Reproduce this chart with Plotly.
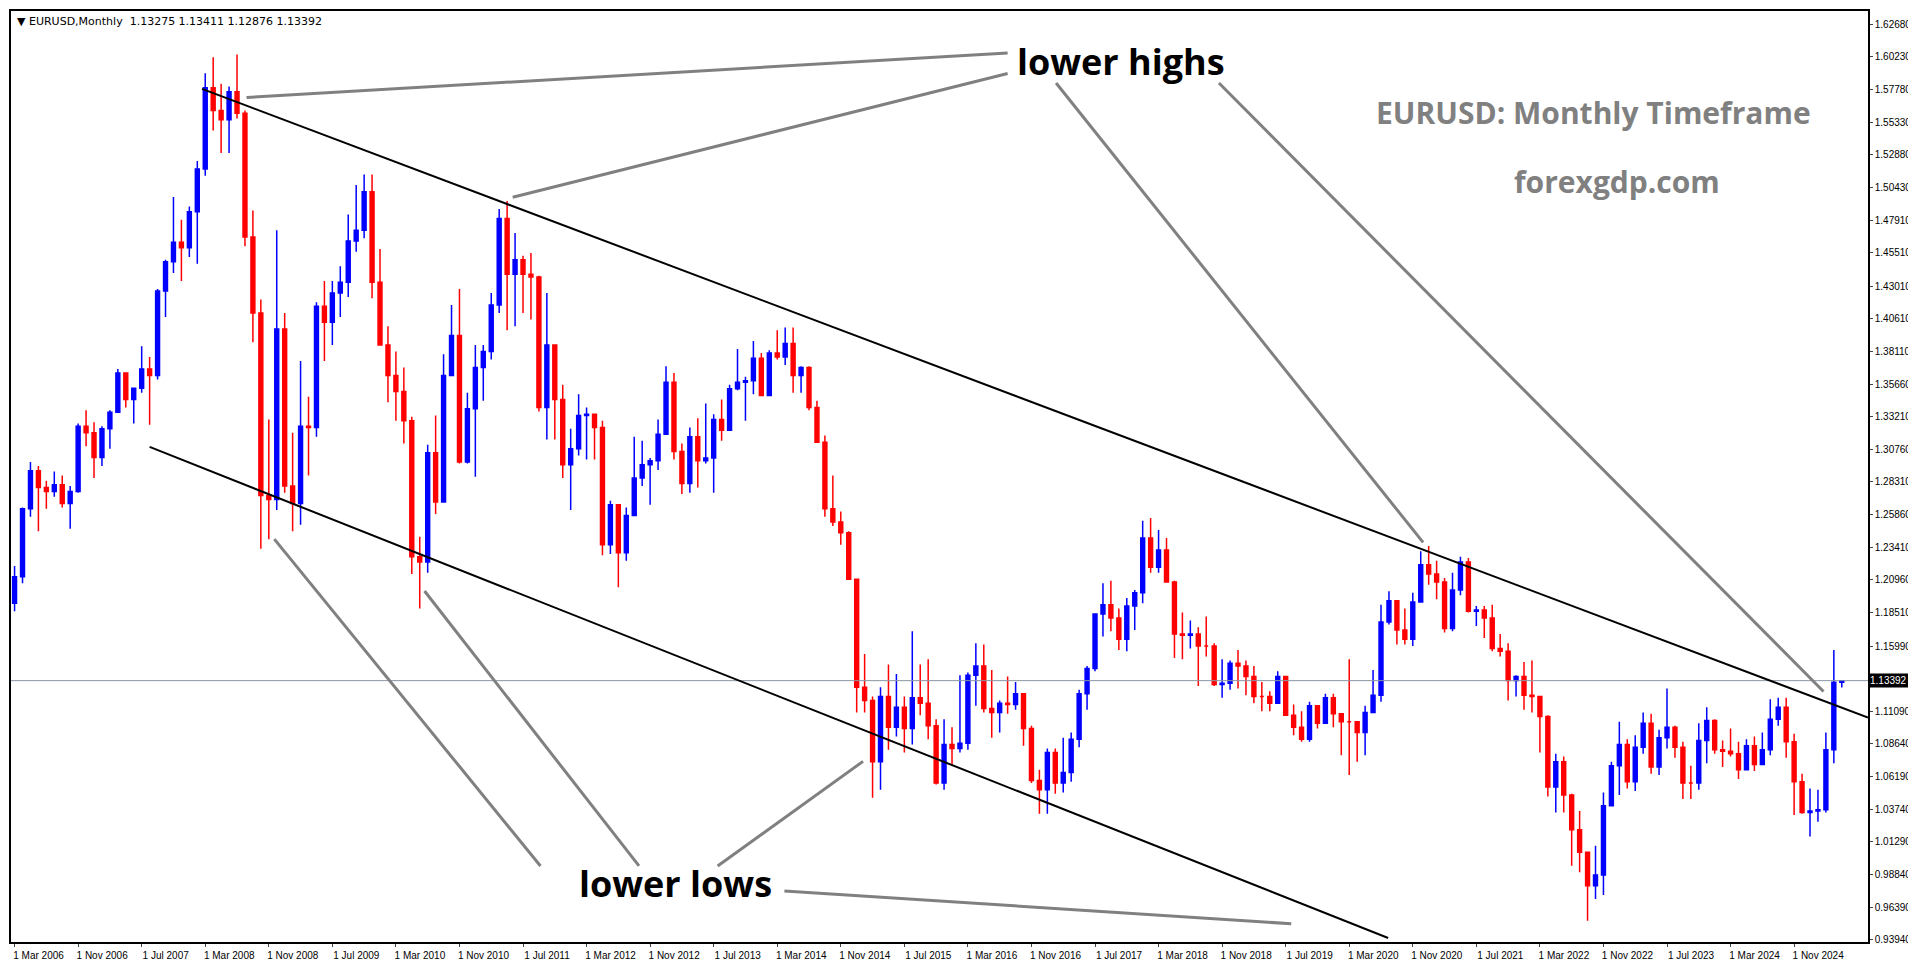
import plotly.graph_objects as go

# monthly candles, Mar 2006 .. May 2025
months = ["Jan", "Feb", "Mar", "Apr", "May", "Jun", "Jul", "Aug", "Sep", "Oct", "Nov", "Dec"]
start_month = 2  # March
start_year = 2006
first_open = 1.1920

close = [
    1.2120, 1.2630, 1.2915, 1.2790, 1.2760, 1.2810, 1.2670, 1.2760, 1.3250, 1.3200,
    1.3015, 1.3230, 1.3355, 1.3650, 1.3450, 1.3535, 1.3680, 1.3630, 1.4265, 1.4485, 1.4630, 1.4590,
    1.4860, 1.5180, 1.5790, 1.5620, 1.5550, 1.5760, 1.5600, 1.4670, 1.4100, 1.2730, 1.2700, 1.3980,
    1.2800, 1.2670, 1.3250, 1.3240, 1.4150, 1.4030, 1.4250, 1.4330, 1.4640, 1.4720, 1.5010, 1.4330,
    1.3860, 1.3630, 1.3510, 1.3290, 1.2270, 1.2230, 1.3050, 1.2680, 1.3630, 1.3930, 1.2980, 1.3380,
    1.3690, 1.3810, 1.4160, 1.4810, 1.4390, 1.4500, 1.4390, 1.4370, 1.3390, 1.3860, 1.3450, 1.2960,
    1.3080, 1.3330, 1.3340, 1.3240, 1.2360, 1.2660, 1.2300, 1.2580, 1.2860, 1.2960, 1.2990, 1.3190,
    1.3580, 1.3060, 1.2820, 1.3170, 1.2990, 1.3010, 1.3300, 1.3220, 1.3530, 1.3580, 1.3590, 1.3760,
    1.3480, 1.3800, 1.3770, 1.3870, 1.3630, 1.3690, 1.3390, 1.3130, 1.2630, 1.2530, 1.2450, 1.2100,
    1.1290, 1.1190, 1.0730, 1.1220, 1.0990, 1.1140, 1.0980, 1.1210, 1.1170, 1.1000, 1.0570, 1.0860,
    1.0830, 1.0870, 1.1380, 1.1450, 1.1130, 1.1100, 1.1170, 1.1160, 1.1240, 1.0980, 1.0590, 1.0520,
    1.0800, 1.0570, 1.0650, 1.0900, 1.1240, 1.1430, 1.1840, 1.1910, 1.1810, 1.1650, 1.1900, 1.2000,
    1.2410, 1.2190, 1.2320, 1.2080, 1.1690, 1.1680, 1.1690, 1.1600, 1.1600, 1.1310, 1.1320, 1.1470,
    1.1450, 1.1370, 1.1220, 1.1220, 1.1170, 1.1370, 1.1080, 1.0990, 1.0900, 1.1150, 1.1020, 1.1210,
    1.1090, 1.1030, 1.1030, 1.0950, 1.1100, 1.1230, 1.1780, 1.1940, 1.1720, 1.1650, 1.1930, 1.2210,
    1.2140, 1.2080, 1.1730, 1.2020, 1.2230, 1.1860, 1.1870, 1.1810, 1.1580, 1.1560, 1.1340, 1.1370,
    1.1230, 1.1220, 1.1070, 1.0540, 1.0730, 1.0480, 1.0220, 1.0050, 0.9800, 0.9880, 1.0400, 1.0700,
    1.0860, 1.0580, 1.0840, 1.1020, 1.0690, 1.0910, 1.0990, 1.0840, 1.0570, 1.0570, 1.0890, 1.1040,
    1.0820, 1.0810, 1.0790, 1.0670, 1.0850, 1.0710, 1.0820, 1.1050, 1.1140, 1.0880, 1.0580, 1.0350,
    1.0360, 1.0370, 1.0820, 1.1327, 1.13392,
]
high = [
    1.2200, 1.2640, 1.2980, 1.2950, 1.2840, 1.2910, 1.2880, 1.2800, 1.3270, 1.3370,
    1.3280, 1.3250, 1.3370, 1.3680, 1.3560, 1.3530, 1.3850, 1.3770, 1.4280, 1.4500, 1.4970, 1.4800,
    1.4900, 1.5240, 1.5900, 1.6020, 1.5820, 1.5800, 1.6040, 1.5620, 1.4870, 1.4200, 1.3300, 1.4720,
    1.4100, 1.3200, 1.3740, 1.3470, 1.4180, 1.4340, 1.4340, 1.4450, 1.4840, 1.5060, 1.5140, 1.5140,
    1.4580, 1.4000, 1.3810, 1.3690, 1.3320, 1.2420, 1.3110, 1.3330, 1.3790, 1.4160, 1.4280, 1.3500,
    1.3860, 1.3860, 1.4250, 1.4880, 1.4940, 1.4700, 1.4530, 1.4550, 1.4380, 1.4250, 1.3820, 1.3560,
    1.3230, 1.3490, 1.3390, 1.3330, 1.3290, 1.2690, 1.2400, 1.2640, 1.3170, 1.3140, 1.3010, 1.3300,
    1.3700, 1.3650, 1.3120, 1.3240, 1.3310, 1.3420, 1.3340, 1.3450, 1.3560, 1.3830, 1.3620, 1.3890,
    1.3800, 1.3820, 1.3970, 1.3990, 1.3990, 1.3700, 1.3700, 1.3440, 1.3180, 1.2880, 1.2610, 1.2460,
    1.2100, 1.1540, 1.1220, 1.1290, 1.1460, 1.1390, 1.1220, 1.1710, 1.1460, 1.1500, 1.1050, 1.1050,
    1.0990, 1.1380, 1.1400, 1.1620, 1.1610, 1.1420, 1.1190, 1.1370, 1.1330, 1.1230, 1.1000, 1.0670,
    1.0830, 1.0830, 1.0910, 1.0950, 1.1270, 1.1450, 1.1840, 1.2070, 1.2090, 1.1880, 1.1960, 1.2020,
    1.2540, 1.2560, 1.2470, 1.2410, 1.2090, 1.1850, 1.1790, 1.1740, 1.1820, 1.1620, 1.1500, 1.1490,
    1.1570, 1.1490, 1.1450, 1.1330, 1.1260, 1.1410, 1.1290, 1.1160, 1.1110, 1.1180, 1.1100, 1.1240,
    1.1240, 1.1050, 1.1500, 1.1020, 1.1150, 1.1420, 1.1910, 1.2010, 1.1870, 1.1880, 1.2000, 1.2310,
    1.2350, 1.2240, 1.2110, 1.2150, 1.2270, 1.2260, 1.1900, 1.1900, 1.1910, 1.1690, 1.1620, 1.1380,
    1.1480, 1.1490, 1.1180, 1.1080, 1.0790, 1.0770, 1.0490, 1.0360, 1.0050, 1.0100, 1.0500, 1.0730,
    1.1030, 1.0900, 1.0930, 1.1100, 1.1090, 1.0970, 1.1280, 1.1000, 1.0880, 1.0700, 1.1020, 1.1140,
    1.1050, 1.0890, 1.0980, 1.0880, 1.0900, 1.0920, 1.0950, 1.1200, 1.1210, 1.1210, 1.0940, 1.0640,
    1.0530, 1.0520, 1.0950, 1.1570, 1.13411,
]
low = [
    1.1860, 1.2070, 1.2570, 1.2460, 1.2630, 1.2720, 1.2640, 1.2480, 1.2750, 1.3100,
    1.2860, 1.2950, 1.3080, 1.3360, 1.3390, 1.3270, 1.3500, 1.3260, 1.3600, 1.4070, 1.4400, 1.4340,
    1.4520, 1.4470, 1.5130, 1.5470, 1.5300, 1.5300, 1.5560, 1.4600, 1.3880, 1.2330, 1.2400, 1.2620,
    1.2750, 1.2460, 1.2510, 1.2880, 1.3170, 1.3740, 1.3860, 1.4070, 1.4220, 1.4560, 1.4660, 1.4210,
    1.3860, 1.3430, 1.3290, 1.3120, 1.2140, 1.1880, 1.2150, 1.2590, 1.2690, 1.3700, 1.2970, 1.2970,
    1.2870, 1.3440, 1.3750, 1.4100, 1.3970, 1.4000, 1.4100, 1.4050, 1.3360, 1.3150, 1.3150, 1.2860,
    1.2620, 1.3030, 1.3000, 1.3000, 1.2280, 1.2290, 1.2040, 1.2240, 1.2690, 1.2800, 1.2660, 1.2920,
    1.3190, 1.3000, 1.2740, 1.2750, 1.2790, 1.2970, 1.2750, 1.3140, 1.3250, 1.3520, 1.3290, 1.3490,
    1.3480, 1.3480, 1.3750, 1.3710, 1.3500, 1.3500, 1.3370, 1.3150, 1.2570, 1.2500, 1.2360, 1.2100,
    1.1100, 1.1100, 1.0460, 1.0520, 1.0820, 1.0920, 1.0800, 1.0860, 1.1080, 1.0900, 1.0560, 1.0520,
    1.0710, 1.0800, 1.0820, 1.1150, 1.1100, 1.0910, 1.0950, 1.1090, 1.1120, 1.0850, 1.0570, 1.0340,
    1.0340, 1.0490, 1.0500, 1.0580, 1.0840, 1.1120, 1.1410, 1.1670, 1.1710, 1.1570, 1.1560, 1.1720,
    1.1920, 1.2150, 1.2150, 1.2080, 1.1510, 1.1500, 1.1580, 1.1300, 1.1520, 1.1300, 1.1210, 1.1270,
    1.1280, 1.1230, 1.1170, 1.1110, 1.1110, 1.1180, 1.1080, 1.0930, 1.0880, 1.0880, 1.0980, 1.1070,
    1.0990, 1.0780, 1.0630, 1.0730, 1.0780, 1.1100, 1.1180, 1.1760, 1.1610, 1.1610, 1.1600, 1.1930,
    1.2060, 1.1950, 1.1700, 1.1710, 1.1980, 1.1850, 1.1750, 1.1660, 1.1560, 1.1520, 1.1190, 1.1220,
    1.1120, 1.1100, 1.0800, 1.0470, 1.0350, 1.0350, 0.9950, 0.9900, 0.9536, 0.9700, 0.9730, 1.0400,
    1.0480, 1.0530, 1.0510, 1.0790, 1.0640, 1.0630, 1.0830, 1.0760, 1.0450, 1.0450, 1.0520, 1.0720,
    1.0790, 1.0690, 1.0770, 1.0600, 1.0690, 1.0660, 1.0710, 1.0780, 1.1000, 1.0760, 1.0330, 1.0340,
    1.0170, 1.0280, 1.0350, 1.0720, 1.12876,
]
open_ = [first_open] + close[:-1]
x = list(range(len(close)))

price_ticks = [0.93940, 0.96390, 0.98840, 1.01290, 1.03740, 1.06190, 1.08640, 1.11090, 1.15990,
               1.18510, 1.20960, 1.23410, 1.25860, 1.28310, 1.30760, 1.33210, 1.35660, 1.38110,
               1.40610, 1.43010, 1.45510, 1.47910, 1.50430, 1.52880, 1.55330, 1.57780, 1.60230, 1.62680]
last_price = 1.13392

# date labels every 8 bars
tick_idx = list(range(0, len(close), 8))
tick_txt = ["1 %s %d" % (months[(start_month + i) % 12], start_year + (start_month + i) // 12)
            for i in tick_idx]

# channel lines and pointer lines (bar index, price)
upper_channel = [(23.6, 1.5782), (233.3, 1.1062)]
lower_channel = [(17.0, 1.3094), (172.9, 0.9407)]
pointers = [
    [(29.2, 1.5718), (125.0, 1.6052)],
    [(62.7, 1.4969), (125.0, 1.5898)],
    [(131.1, 1.5826), (177.3, 1.2377)],
    [(151.6, 1.5826), (227.7, 1.1258)],
    [(32.7, 1.2402), (66.2, 0.9948)],
    [(51.6, 1.2012), (78.6, 0.9948)],
    [(88.5, 0.9948), (106.8, 1.0733)],
    [(96.9, 0.9760), (160.7, 0.9514)],
]

fig = go.Figure(go.Candlestick(
    x=x, open=open_, high=high, low=low, close=close,
    increasing=dict(line=dict(color="#0000ff", width=1.5), fillcolor="#0000ff"),
    decreasing=dict(line=dict(color="#ff0000", width=1.5), fillcolor="#ff0000"),
    whiskerwidth=0, showlegend=False,
))

shapes = [dict(type="line", xref="paper", x0=0, x1=1, y0=last_price, y1=last_price,
               line=dict(color="#8a96a3", width=1))]
for (a, b) in [upper_channel, lower_channel]:
    shapes.append(dict(type="line", x0=a[0], y0=a[1], x1=b[0], y1=b[1],
                       line=dict(color="black", width=2)))
for (a, b) in pointers:
    shapes.append(dict(type="line", x0=a[0], y0=a[1], x1=b[0], y1=b[1],
                       line=dict(color="#808080", width=3)))

big = dict(size=36, color="black", family="Open Sans")
grey = dict(size=30, color="#808080", family="Open Sans")
small = dict(size=10, family="Liberation Sans", color="black")
annotations = [
    dict(text="▼ EURUSD,Monthly  1.13275 1.13411 1.12876 1.13392", xref="paper", yref="paper",
         x=0.002, y=0.998, xanchor="left", yanchor="top", showarrow=False,
         font=dict(size=11, color="black", family="DejaVu Sans")),
    dict(text="<b>lower highs</b>", xref="paper", yref="paper", x=0.598, y=0.946,
         xanchor="center", yanchor="middle", showarrow=False, font=big),
    dict(text="<b>lower lows</b>", xref="paper", yref="paper", x=0.358, y=0.063,
         xanchor="center", yanchor="middle", showarrow=False, font=big),
    dict(text="<b>EURUSD: Monthly Timeframe</b>", xref="paper", yref="paper", x=0.852, y=0.891,
         xanchor="center", yanchor="middle", showarrow=False, font=grey),
    dict(text="<b>forexgdp.com</b>", xref="paper", yref="paper", x=0.865, y=0.817,
         xanchor="center", yanchor="middle", showarrow=False, font=grey),
    dict(text="1.13392", xref="paper", x=1.0, y=last_price, xanchor="left", yanchor="middle",
         showarrow=False, bgcolor="black", borderpad=1,
         font=dict(size=10, color="white", family="Liberation Sans")),
]

fig.update_layout(
    width=1916, height=964,
    margin=dict(l=1, r=56, t=1, b=30),
    plot_bgcolor="white", paper_bgcolor="white",
    shapes=shapes, annotations=annotations,
    xaxis=dict(range=[-0.45, 233.3], tickvals=tick_idx, ticktext=tick_txt, showgrid=False,
               rangeslider=dict(visible=False), ticks="outside", ticklen=3, ticklabelshift=24,
               tickfont=small,
               showline=True, linecolor="black", linewidth=1.5, mirror=True, zeroline=False),
    yaxis=dict(range=[0.9377, 1.6367], side="right", tickvals=price_ticks,
               ticktext=["%.5f" % v for v in price_ticks], showgrid=False,
               ticks="outside", ticklen=3, tickfont=small,
               showline=True, linecolor="black", linewidth=1.5, mirror=True, zeroline=False),
)

fig.write_html("out.html")
